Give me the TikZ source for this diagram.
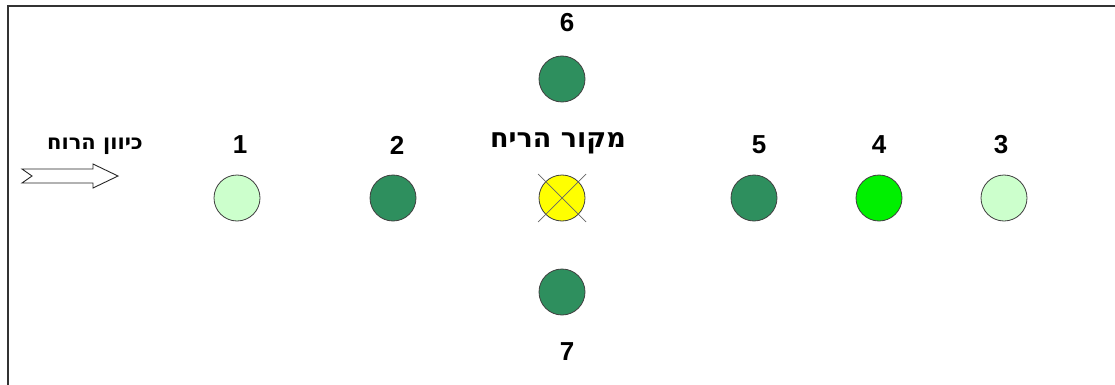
\documentclass[tikz,border=0pt]{standalone}
\usepackage{fontspec}
\setmainfont{Liberation Sans}
\newfontfamily\hebbold[Script=Hebrew]{DejaVu Sans Bold}
\TeXXeTstate=1
\definecolor{darkgreen}{RGB}{46,143,94}
\definecolor{palegreen}{RGB}{204,255,204}
\definecolor{brightgreen}{RGB}{0,240,0}
\definecolor{srcyellow}{RGB}{255,255,0}
\begin{document}
\begin{tikzpicture}[x=1pt,y=-1pt,
  site/.style={circle,draw=black!75,line width=0.8pt,minimum size=46pt,inner sep=0pt},
  num/.style={font=\bfseries\fontsize{26}{28}\selectfont,inner sep=0pt,text=black},
  heb/.style={font=\hebbold\fontsize{27}{30}\selectfont,inner sep=0pt,text=black}]
\useasboundingbox (0,0) rectangle (1115,385);
% frame
\draw[line width=1.6pt,black!80] (8,388) -- (8,6) -- (1118,6);

% wind direction
\node[heb,font=\hebbold\fontsize{21}{24}\selectfont] (windlbl) at (95,146) {\beginR כיוון הרוח\endR};
\draw[black!85,line width=0.9pt] (22,169) -- (93,169) -- (93,164) -- (118,176) -- (93,188) -- (93,183) -- (22,183) -- (32,176) -- cycle;

% source
\node[site,fill=srcyellow] (src) at (562,198) {};
\draw[black!60,line width=0.7pt] (538,174) -- (586,222) (586,174) -- (538,222);
\node[heb] (srclbl) at (558,143) {\beginR מקור הריח\endR};

% sampling points
\node[site,fill=palegreen] (p1) at (237,198) {};
\node[site,fill=darkgreen] (p2) at (393,198) {};
\node[site,fill=darkgreen] (p5) at (754,198) {};
\node[site,fill=brightgreen] (p4) at (879,198) {};
\node[site,fill=palegreen] (p3) at (1004,198) {};
\node[site,fill=darkgreen] (p6) at (562,79) {};
\node[site,fill=darkgreen] (p7) at (562,292) {};

\node[num] (l1) at (240,145) {1};
\node[num] (l2) at (397,145) {2};
\node[num] (l5) at (759,145) {5};
\node[num] (l4) at (879,145) {4};
\node[num] (l3) at (1001,145) {3};
\node[num] (l6) at (567,23) {6};
\node[num] (l7) at (567,352) {7};
\end{tikzpicture}
\end{document}
